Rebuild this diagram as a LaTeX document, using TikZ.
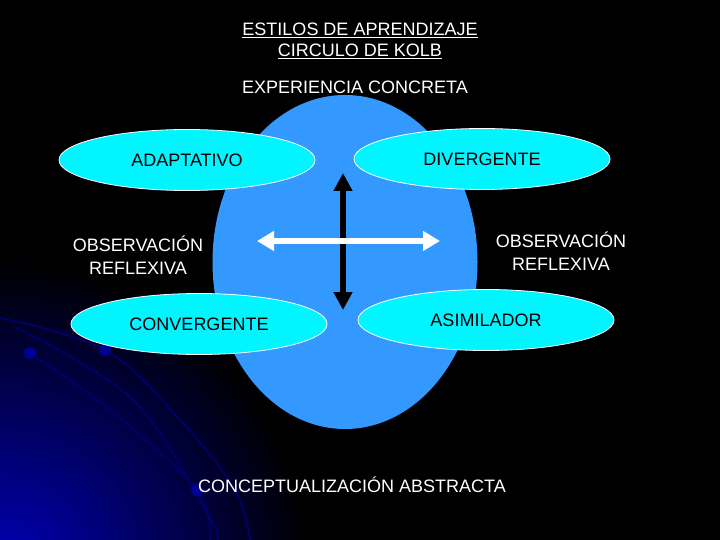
\documentclass[tikz,border=0pt]{standalone}
\usepackage{fontspec}
\setmainfont{Liberation Sans}
\usetikzlibrary{shapes.geometric,arrows.meta}
\definecolor{circleblue}{RGB}{51,153,255}
\definecolor{stylecyan}{RGB}{0,245,255}
\definecolor{deepblue}{RGB}{0,0,185}
\tikzset{
  stylebox/.style={ellipse, draw=white, fill=stylecyan, line width=0.8pt,
    minimum width=256pt, minimum height=61pt, inner sep=0pt, text=black},
  axislabel/.style={text=white, align=center},
  trail/.style={deepblue!55!black, line width=2pt},
}
\begin{document}
\begin{tikzpicture}[x=1pt, y=-1pt, font=\fontsize{18}{22.5}\selectfont]
  \useasboundingbox (0, 0) rectangle (720, 540);
  \fill[black] (0, 0) rectangle (720, 540);

  % blue glow in the lower left corner
  \begin{scope}
    \clip (0, 0) rectangle (720, 540);
    \shade[inner color=deepblue, outer color=black] (0, 570) circle (310);
    \draw[trail] plot[smooth, tension=0.6] coordinates {(0, 318) (105, 350) (180, 420) (235, 490) (250, 540)};
    \draw[trail] plot[smooth, tension=0.6] coordinates {(15, 327) (133, 400) (207, 513) (218, 540)};
    \draw[trail] plot[smooth, tension=0.6] coordinates {(30, 353) (110, 410) (197, 490) (210, 540)};
    \foreach \px/\py in {30/353, 105/350, 197/490}
      \fill[deepblue!80!black] (\px, \py) circle (6);
  \end{scope}

  % title
  \node[axislabel] (title1) at (360, 30) {\underline{ESTILOS DE APRENDIZAJE}};
  \node[axislabel] (title2) at (360, 51) {\underline{CIRCULO DE KOLB}};

  % the cycle
  \node[ellipse, fill=circleblue, minimum width=265pt, minimum height=334pt, inner sep=0pt] (cycle) at (345, 262) {};
  \node[axislabel] (concreta) at (355, 87) {EXPERIENCIA CONCRETA};
  \node[axislabel] (abstracta) at (352, 485) {CONCEPTUALIZACIÓN ABSTRACTA};
  \node[axislabel] (obsleft) at (138, 255) {OBSERVACIÓN\\REFLEXIVA};
  \node[axislabel] (obsright) at (561, 251) {OBSERVACIÓN\\REFLEXIVA};

  % learning styles
  \node[stylebox] (adaptativo) at (187, 160) {ADAPTATIVO};
  \node[stylebox] (divergente) at (482, 159) {DIVERGENTE};
  \node[stylebox] (convergente) at (199, 324) {CONVERGENTE};
  \node[stylebox] (asimilador) at (486, 320) {ASIMILADOR};

  % axes
  \coordinate (vtop) at (343, 173);
  \coordinate (vbot) at (343, 310);
  \coordinate (hleft) at (257, 241);
  \coordinate (hright) at (440, 241);
  \draw[black, line width=6pt, {Triangle[width=18pt, length=18pt]}-{Triangle[width=18pt, length=18pt]}] (vtop) -- (vbot);
  \draw[white, line width=6.5pt, {Triangle[width=19pt, length=17pt]}-{Triangle[width=19pt, length=17pt]}] (hleft) -- (hright);
\end{tikzpicture}
\end{document}
